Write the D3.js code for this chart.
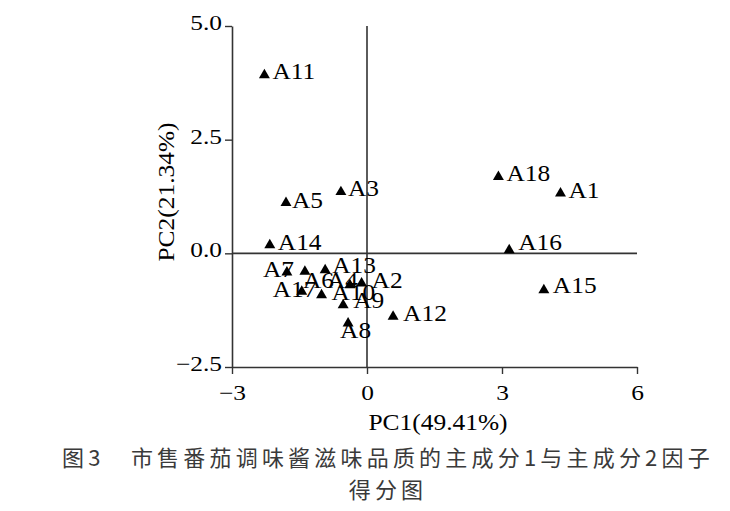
<!DOCTYPE html>
<html>
<head>
<meta charset="utf-8">
<script src="https://cdn.jsdelivr.net/npm/d3@7"></script>
<style>
  body { margin: 0; background: #fff; }
  svg { display: block; }
</style>
</head>
<body>
<svg id="chart" width="730" height="511"></svg>
<script>
// data
const samples = ['A1','A2','A3','A4','A5','A6','A7','A8','A9','A10','A11','A12','A13','A14','A15','A16','A17','A18'];
const pc1 = [4.30, -0.12, -0.58, -0.38, -1.80, -1.38, -1.78, -0.42, -0.53, -1.01, -2.28, 0.58, -0.93, -2.16, 3.93, 3.16, -1.45, 2.92];
const pc2 = [1.32, -0.66, 1.35, -0.70, 1.11, -0.40, -0.42, -1.54, -1.14, -0.92, 3.92, -1.39, -0.37, 0.18, -0.81, 0.07, -0.84, 1.68];
const xTicks = [-3, 0, 3, 6];
const yTicks = [-2.5, 0, 2.5, 5.0];
const xTitle = 'PC1(49.41%)';
const yTitle = 'PC2(21.34%)';
const caption = ['图3\u3000市售番茄调味酱滋味品质的主成分1与主成分2因子', '得分图'];

// where each label sits relative to its marker (the figure moves some of them by hand)
const nudge = {
    A1: [8, 5], A2: [10, 5], A3: [7, 4], A4: [-23, 3], A5: [6, 5], A6: [-2, 16],
    A7: [-24, 5], A8: [-8, 15], A9: [10, 3], A10: [10, 5], A11: [8, 4], A12: [10, 4],
    A13: [7, 3], A14: [8, 5], A15: [9, 3], A16: [9, 0], A17: [-29, 5], A18: [8, 4]
};

const serif = '"Liberation Serif", "Times New Roman", serif';
const ink = '#333';
// the original type is set a little wide, so serif text gets stretched sideways
const wide = 1.13;
const tickWide = 1.21;

const svg = d3.select('#chart');

const x = d3.scaleLinear().domain([-3, 6]).range([232, 637]);
const y = d3.scaleLinear().domain([-2.5, 5]).range([367, 26]);

// axes
const xAxis = svg.append('g')
    .attr('transform', 'translate(0,' + y(-2.5) + ')')
    .call(d3.axisBottom(x).tickValues(xTicks).tickSize(7).tickSizeOuter(0).tickPadding(11)
        .tickFormat(d3.format('d')));
const yAxis = svg.append('g')
    .attr('transform', 'translate(' + x(-3) + ',0)')
    .call(d3.axisLeft(y).tickValues(yTicks).tickSize(7).tickSizeOuter(0).tickPadding(3)
        .tickFormat(d3.format('.1f')));

[xAxis, yAxis].forEach(a => {
    a.select('.domain').attr('stroke', ink).attr('stroke-width', 1.6);
    a.selectAll('.tick line').attr('stroke', ink).attr('stroke-width', 1.4);
    a.selectAll('.tick text')
        .attr('fill', '#000')
        .style('font-family', serif)
        .style('font-size', '21px')
        .each(function () {
            const t = d3.select(this);
            const x0 = +t.attr('x') || 0;
            t.attr('x', x0 / tickWide).attr('transform', 'scale(' + tickWide + ',1)');
        });
});
yAxis.selectAll('.tick text').attr('dy', '3.5px');

// zero reference lines
svg.append('line')
    .attr('x1', x(0)).attr('x2', x(0))
    .attr('y1', y(5)).attr('y2', y(-2.5))
    .attr('stroke', ink).attr('stroke-width', 1.6);
svg.append('line')
    .attr('x1', x(-3)).attr('x2', x(6))
    .attr('y1', y(0)).attr('y2', y(0))
    .attr('stroke', ink).attr('stroke-width', 1.6);

// axis titles
svg.append('text')
    .attr('transform', 'translate(438,430) scale(' + wide + ',1)')
    .attr('text-anchor', 'middle')
    .style('font-family', serif).style('font-size', '22.5px')
    .text(xTitle);
svg.append('text')
    .attr('transform', 'translate(174,192) rotate(-90) scale(' + wide + ',1)')
    .attr('text-anchor', 'middle')
    .style('font-family', serif).style('font-size', '22.5px')
    .text(yTitle);

// points
const pts = samples.map((s, i) => ({ name: s, x: pc1[i], y: pc2[i] }));
const tri = d3.symbol(d3.symbolTriangle, 52);

const g = svg.append('g');
g.selectAll('text.lab')
    .data(pts)
    .join('text')
    .attr('class', 'lab')
    .attr('transform', d => 'translate(' + (x(d.x) + nudge[d.name][0]) + ',' +
        (y(d.y) + nudge[d.name][1]) + ') scale(' + wide + ',1)')
    .style('font-family', serif).style('font-size', '22.5px')
    .attr('fill', '#000')
    .text(d => d.name);
g.selectAll('path.pt')
    .data(pts)
    .join('path')
    .attr('class', 'pt')
    .attr('transform', d => 'translate(' + x(d.x) + ',' + y(d.y) + ')')
    .attr('d', tri)
    .attr('fill', '#000');

// caption
svg.selectAll('text.cap')
    .data(caption)
    .join('text')
    .attr('class', 'cap')
    .attr('x', 388)
    .attr('y', (d, i) => 466 + i * 32)
    .attr('text-anchor', 'middle')
    .attr('fill', '#3a3a3a')
    .style('font-family', '"Noto Sans CJK SC", sans-serif')
    .style('font-size', '22px')
    .style('letter-spacing', '4.2px')
    .text(d => d);
</script>
</body>
</html>
